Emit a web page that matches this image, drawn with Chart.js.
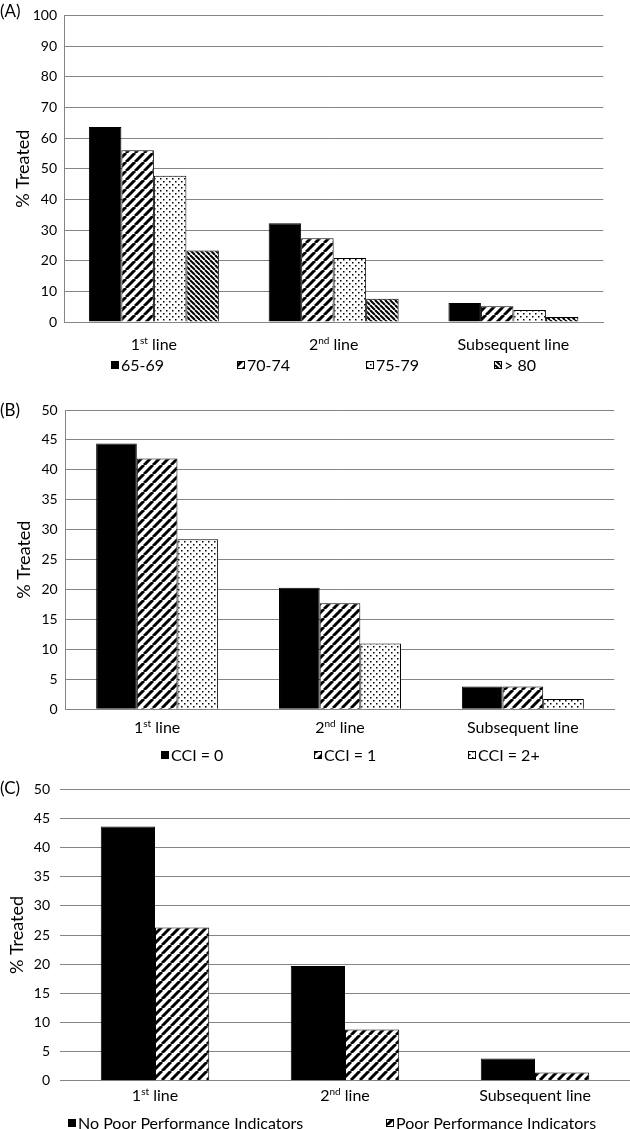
<!DOCTYPE html>
<html><head><meta charset="utf-8">
<script src="https://cdn.jsdelivr.net/npm/chart.js@4.4.1/dist/chart.umd.min.js"></script>
<style>
html,body{margin:0;padding:0;background:#fff;}
#wrap{position:relative;width:630px;height:1129px;}
.c{position:absolute;left:0;width:630px;}
</style></head><body>
<div id="wrap">
<div class="c" style="top:0;height:375px"><canvas id="ca"></canvas></div>
<div class="c" style="top:375px;height:390px"><canvas id="cb"></canvas></div>
<div class="c" style="top:765px;height:364px"><canvas id="cc"></canvas></div>
</div>
<script>
// ---- data ----
const categories = ['1st line', '2nd line', 'Subsequent line'];

const ageGroups = ['65-69', '70-74', '75-79', '> 80'];
const age6569 = [63.6, 32.2, 6.2];
const age7074 = [56.0, 27.3, 5.1];
const age7579 = [47.7, 20.9, 3.9];
const age80 = [23.3, 7.6, 1.6];
const ticksA = [0, 10, 20, 30, 40, 50, 60, 70, 80, 90, 100];

const cciGroups = ['CCI = 0', 'CCI = 1', 'CCI = 2+'];
const cci0 = [44.4, 20.3, 3.8];
const cci1 = [41.9, 17.7, 3.8];
const cci2 = [28.4, 11.0, 1.7];
const ticksB = [0, 5, 10, 15, 20, 25, 30, 35, 40, 45, 50];

const perfGroups = ['No Poor Performance Indicators', 'Poor Performance Indicators'];
const noPoorPerf = [43.6, 19.7, 3.8];
const poorPerf = [26.3, 8.8, 1.4];
const ticksC = [0, 5, 10, 15, 20, 25, 30, 35, 40, 45, 50];

const yTitle = '% Treated';

// ---- styling helpers ----
const FONT = 'Lato';
const GRID = '#858585';
function tile(w, h, draw) {
  const c = document.createElement('canvas');
  c.width = w; c.height = h;
  const x = c.getContext('2d');
  x.fillStyle = '#fff'; x.fillRect(0, 0, w, h);
  x.fillStyle = '#000'; x.strokeStyle = '#000';
  draw(x, w, h);
  return document.createElement('canvas').getContext('2d').createPattern(c, 'repeat');
}
function stripes(dir, p, lw) {
  return tile(p, p, (x) => {
    x.lineWidth = lw;
    for (let k = -1; k <= 1; k++) {
      x.beginPath();
      if (dir === 'up') { x.moveTo(k * p, p); x.lineTo(k * p + p, 0); }
      else { x.moveTo(k * p, 0); x.lineTo(k * p + p, p); }
      x.stroke();
    }
  });
}
function dots() {
  return tile(6, 6, (x) => {
    x.fillRect(1, 1, 1.5, 1.5);
    x.fillRect(4, 4, 1.5, 1.5);
  });
}
const SOLID = '#000';
const UP = stripes('up', 9, 3);
const DOTS = dots();
const DOWN = stripes('down', 5, 2);

function drawCat(ctx, text, cx, cy, size) {
  const m = text.match(/^(\d+)(st|nd|rd|th)(.*)$/);
  const base = size + 'px ' + FONT, sup = Math.round(size * 0.65) + 'px ' + FONT;
  const parts = m ? [[m[1], base, 0], [m[2], sup, -size * 0.33], [m[3], base, 0]] : [[text, base, 0]];
  let total = 0;
  parts.forEach(p => { ctx.font = p[1]; total += ctx.measureText(p[0]).width; });
  let x = cx - total / 2;
  ctx.textAlign = 'left'; ctx.textBaseline = 'alphabetic';
  parts.forEach(p => { ctx.font = p[1]; ctx.fillText(p[0], x, cy + size * 0.36 + p[2]); x += ctx.measureText(p[0]).width; });
}

const annotate = {
  id: 'annotate',
  afterDraw(chart, args, o) {
    const ctx = chart.ctx, xs = chart.scales.x;
    ctx.save();
    ctx.fillStyle = '#000';
    ctx.font = o.panelSize + 'px ' + FONT; ctx.textBaseline = 'middle'; ctx.textAlign = 'left';
    ctx.fillText(o.panel, 0, o.panelY);
    chart.data.labels.forEach((lab, i) => drawCat(ctx, lab, xs.getPixelForValue(i), o.labelY, o.labelSize));
    const s = o.box;
    chart.data.datasets.forEach((ds, i) => {
      const x = o.legendX[i], y = o.legendY;
      ctx.fillStyle = ds.backgroundColor;
      ctx.fillRect(x, y - s / 2, s, s);
      ctx.lineWidth = 1; ctx.strokeStyle = '#000';
      ctx.strokeRect(x + 0.5, y - s / 2 + 0.5, s - 1, s - 1);
      ctx.fillStyle = '#000';
      ctx.font = o.legendSize + 'px ' + FONT; ctx.textBaseline = 'middle'; ctx.textAlign = 'left';
      ctx.fillText(ds.label, x + s + 2, y + 1);
    });
    ctx.restore();
  }
};

function makeChart(id, cfg) {
  const datasets = cfg.series.map((vals, i) => ({
    label: cfg.names[i], data: vals, backgroundColor: cfg.fills[i],
    borderColor: '#000', borderWidth: 1,
    categoryPercentage: cfg.catPct, barPercentage: 1
  }));
  return new Chart(document.getElementById(id), {
    type: 'bar',
    data: { labels: categories, datasets },
    plugins: [annotate],
    options: {
      responsive: true, maintainAspectRatio: false, animation: false, devicePixelRatio: 1,
      layout: { padding: cfg.pad },
      plugins: {
        legend: { display: false }, tooltip: { enabled: false },
        annotate: cfg.ann
      },
      scales: {
        x: {
          grid: { display: false },
          border: { display: true, color: GRID },
          ticks: { display: false },
          afterFit: s => { s.height = cfg.xh; }
        },
        y: {
          min: 0, max: cfg.ticks[cfg.ticks.length - 1],
          afterBuildTicks: s => { s.ticks = cfg.ticks.map(v => ({ value: v })); },
          grid: { color: GRID, lineWidth: 1, drawTicks: false },
          border: { display: cfg.yBorder, color: GRID },
          ticks: { color: '#000', padding: cfg.tickPad, font: { family: FONT, size: 14 } },
          title: { display: true, text: yTitle, color: '#000', font: { family: FONT, size: 18 }, padding: { top: cfg.titlePad, bottom: 0 } },
          afterFit: s => { s.width = cfg.yw; }
        }
      }
    }
  });
}

makeChart('ca', {
  series: [age6569, age7074, age7579, age80], names: ageGroups,
  fills: [SOLID, UP, DOTS, DOWN], catPct: 0.723,
  pad: { top: 9.5, right: 26.7, left: 0, bottom: 0 }, xh: 53, yw: 64, yBorder: true,
  ticks: ticksA, tickPad: 7, titlePad: 12,
  ann: { panel: '(A)', panelY: 11.5, panelSize: 17, labelY: 344, labelSize: 16,
         legendX: [111, 237, 366, 494], legendY: 365, legendSize: 16, box: 8 }
});
makeChart('cb', {
  series: [cci0, cci1, cci2], names: cciGroups,
  fills: [SOLID, UP, DOTS], catPct: 0.667,
  pad: { top: 35, right: 15.7, left: 0, bottom: 0 }, xh: 55.7, yw: 65.7, yBorder: true,
  ticks: ticksB, tickPad: 8, titlePad: 13,
  ann: { panel: '(B)', panelY: 36, panelSize: 17, labelY: 352, labelSize: 16,
         legendX: [161, 314, 468], legendY: 380, legendSize: 16, box: 8 }
});
makeChart('cc', {
  series: [noPoorPerf, poorPerf], names: perfGroups,
  fills: [SOLID, UP], catPct: 0.571,
  pad: { top: 24.3, right: 0, left: 0, bottom: 0 }, xh: 48.3, yw: 60, yBorder: false,
  ticks: ticksC, tickPad: 10, titlePad: 6,
  ann: { panel: '(C)', panelY: 24, panelSize: 17, labelY: 330, labelSize: 16,
         legendX: [68, 386], legendY: 358, legendSize: 16, box: 8 }
});
</script>
</body></html>
